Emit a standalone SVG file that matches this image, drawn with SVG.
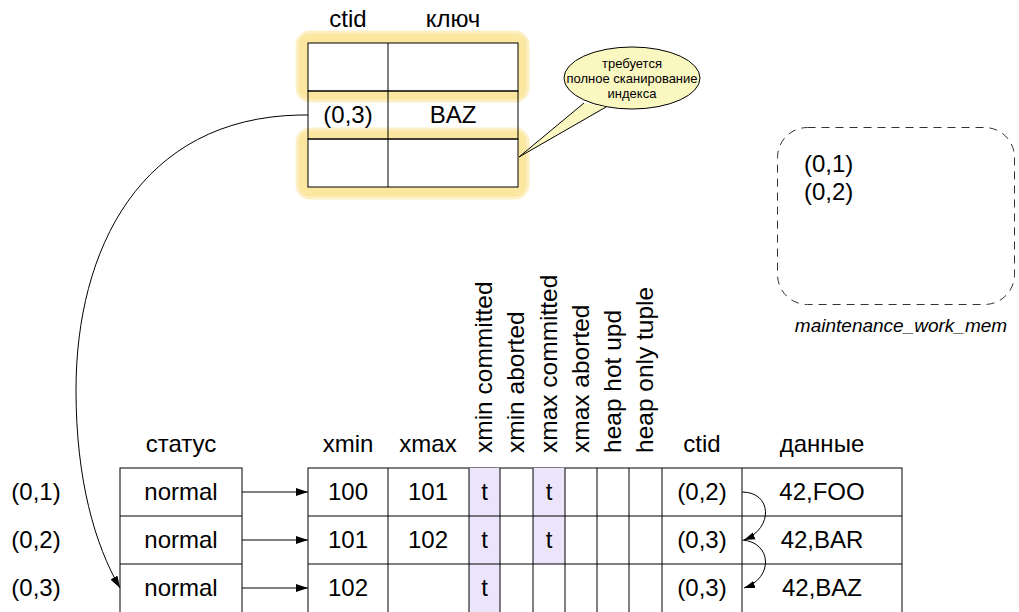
<svg xmlns="http://www.w3.org/2000/svg" width="1019" height="612" viewBox="0 0 1019 612">
<style>
text{font-family:"Liberation Sans",Arial,sans-serif;fill:#000}
.t{font-size:24px;text-anchor:middle}
.l{font-size:24px}
.v{font-size:24.5px}
.cell{fill:#fff;stroke:#000;stroke-width:1}
.ln{stroke:#000;stroke-width:1;fill:none}
.hl{fill:#fce7a0;stroke:#fdf0c6;stroke-width:3}
.flag{fill:#ebe4fb}
.conn{stroke:#000;stroke-width:1;fill:none}
.bt{font-size:13px;text-anchor:middle}
</style>
<defs>
<marker id="ah" viewBox="0 0 12 8" refX="12" refY="4" markerWidth="12" markerHeight="8" markerUnits="userSpaceOnUse" orient="auto">
<path d="M0,0 L12,4 L0,8 Z" fill="#000"/>
</marker>
<marker id="ahs" viewBox="0 0 12 8" refX="12" refY="4" markerWidth="11" markerHeight="8" markerUnits="userSpaceOnUse" orient="auto">
<path d="M0,0 L12,4 L0,8 Z" fill="#000"/>
</marker>
</defs>
<rect width="1019" height="612" fill="#fff"/>

<g id="index">
<text class="t" x="348" y="27">ctid</text>
<text class="t" x="453" y="27">ключ</text>
<rect class="hl" x="297" y="32" width="231" height="69" rx="13"/>
<rect class="hl" x="297" y="129" width="231" height="69" rx="13"/>
<rect class="cell" x="308" y="43" width="210" height="48"/>
<rect class="cell" x="308" y="139" width="210" height="48"/>
<rect x="308" y="91" width="210" height="48" fill="none" stroke="#000"/>
<line class="ln" x1="388" y1="43" x2="388" y2="187"/>
<text class="t" x="348" y="123">(0,3)</text>
<text class="t" x="453" y="123">BAZ</text>
</g>

<g id="callout">
<ellipse cx="632" cy="78" rx="68" ry="31" fill="#fbf7c0" stroke="#000" stroke-width="1"/>
<polygon points="584,103 606,107 519,157" fill="#fbf7c0"/>
<polyline class="ln" points="584,103 519,157 606,107"/>
<text class="bt" x="632" y="68">требуется</text>
<text class="bt" x="632" y="83">полное сканирование</text>
<text class="bt" x="632" y="98">индекса</text>
</g>

<g id="mem">
<rect x="777.5" y="127.5" width="237" height="177" rx="30" fill="none" stroke="#333" stroke-dasharray="8,6"/>
<text class="l" x="804" y="172">(0,1)</text>
<text class="l" x="804" y="200">(0,2)</text>
<text x="901" y="332" font-size="19" font-style="italic" text-anchor="middle">maintenance_work_mem</text>
</g>

<g id="rowlabels">
<text class="t" x="36" y="500">(0,1)</text>
<text class="t" x="36" y="548">(0,2)</text>
<text class="t" x="36" y="596">(0,3)</text>
</g>

<g id="status">
<text class="t" x="181" y="452">статус</text>
<rect class="cell" x="120" y="468" width="122" height="146"/>
<line class="ln" x1="120" y1="516" x2="242" y2="516"/>
<line class="ln" x1="120" y1="564" x2="242" y2="564"/>
<text class="t" x="181" y="500">normal</text>
<text class="t" x="181" y="548">normal</text>
<text class="t" x="181" y="596">normal</text>
</g>

<g id="heap">
<text class="t" x="348" y="452">xmin</text>
<text class="t" x="428" y="452">xmax</text>
<text class="t" x="702" y="452">ctid</text>
<text class="t" x="822" y="452">данные</text>
<text class="v" transform="translate(492,453) rotate(-90)">xmin committed</text>
<text class="v" transform="translate(524,453) rotate(-90)">xmin aborted</text>
<text class="v" transform="translate(557,453) rotate(-90)">xmax committed</text>
<text class="v" transform="translate(589,453) rotate(-90)">xmax aborted</text>
<text class="v" transform="translate(621,453) rotate(-90)">heap hot upd</text>
<text class="v" transform="translate(653,453) rotate(-90)">heap only tuple</text>
<rect class="cell" x="308" y="468" width="594" height="146"/>
<rect class="flag" x="469" y="468" width="31" height="146"/>
<rect class="flag" x="533" y="468" width="32" height="96"/>
<line class="ln" x1="308" y1="516" x2="902" y2="516"/>
<line class="ln" x1="308" y1="564" x2="902" y2="564"/>
<line class="ln" x1="388" y1="468" x2="388" y2="614"/>
<line class="ln" x1="469" y1="468" x2="469" y2="614"/>
<line class="ln" x1="500" y1="468" x2="500" y2="614"/>
<line class="ln" x1="533" y1="468" x2="533" y2="614"/>
<line class="ln" x1="565" y1="468" x2="565" y2="614"/>
<line class="ln" x1="597" y1="468" x2="597" y2="614"/>
<line class="ln" x1="629" y1="468" x2="629" y2="614"/>
<line class="ln" x1="662" y1="468" x2="662" y2="614"/>
<line class="ln" x1="742" y1="468" x2="742" y2="614"/>
<text class="t" x="348" y="500">100</text>
<text class="t" x="428" y="500">101</text>
<text class="t" x="484.5" y="500">t</text>
<text class="t" x="549" y="500">t</text>
<text class="t" x="702" y="500">(0,2)</text>
<text class="t" x="822" y="500">42,FOO</text>
<text class="t" x="348" y="548">101</text>
<text class="t" x="428" y="548">102</text>
<text class="t" x="484.5" y="548">t</text>
<text class="t" x="549" y="548">t</text>
<text class="t" x="702" y="548">(0,3)</text>
<text class="t" x="822" y="548">42,BAR</text>
<text class="t" x="348" y="596">102</text>
<text class="t" x="484.5" y="596">t</text>
<text class="t" x="702" y="596">(0,3)</text>
<text class="t" x="822" y="596">42,BAZ</text>
</g>

<g id="connectors">
<path class="conn" d="M308,115 L300,115 C140,118 76,250 76,390 C76,480 95,545 120,588" marker-end="url(#ah)"/>
<line class="conn" x1="242" y1="492" x2="308" y2="492" marker-end="url(#ah)"/>
<line class="conn" x1="242" y1="540" x2="308" y2="540" marker-end="url(#ah)"/>
<line class="conn" x1="242" y1="588" x2="308" y2="588" marker-end="url(#ah)"/>
<path class="conn" d="M742,492 C772,492 774,528 744,540" marker-end="url(#ahs)"/>
<path class="conn" d="M742,540 C772,542 774,578 744,588" marker-end="url(#ahs)"/>
</g>
</svg>
